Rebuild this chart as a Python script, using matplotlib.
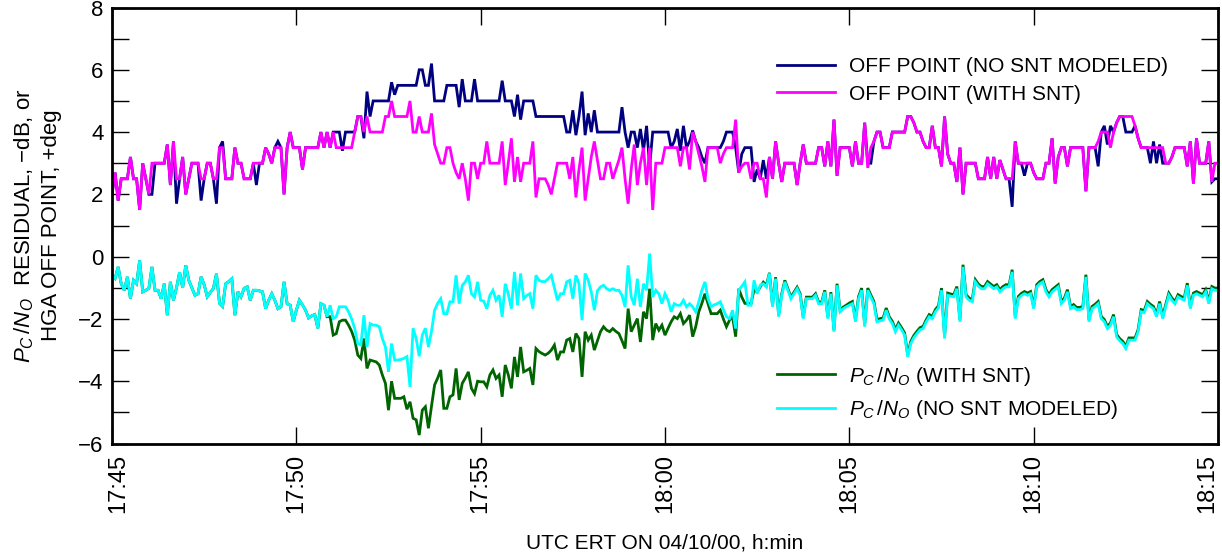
import numpy as np
import matplotlib
matplotlib.use("Agg")
import matplotlib.pyplot as plt
import matplotlib.transforms as mtransforms
from matplotlib.ticker import MultipleLocator

# HGA off-point estimates, deg, one sample every 5 s from 17:45:00 (one row per minute)
off_no_snt = [
    2, 2.7, 1.8, 2.5, 2.5, 2.5, 3.2, 2.5, 2.5, 1.5, 3, 2.5,
    2, 2, 3, 3, 3, 3, 3.6, 2.3, 3.7, 1.7, 2.5, 3.2,
    2, 2.5, 3, 3, 3, 1.8, 2.5, 3, 3, 2.5, 1.7, 3.5,
    3.7, 2.5, 2.5, 2.5, 3.5, 3, 3, 2.5, 2.5, 2.5, 3, 2.3,
    3, 3, 3.5, 3.3, 3, 3.5, 3.7, 3.5, 2, 3.5, 4, 3.5,
    3.5, 3.5, 2.8, 3.5, 3.5, 3.5, 3.5, 3.5, 4, 3.5, 4, 3.5,
    4, 4, 4, 3.4, 4, 4, 4, 4, 4.5, 4.5, 3.8, 5.3,
    4.5, 5, 5, 5, 5, 5, 5, 5.6, 5.2, 5.5, 5.5, 5.5,
    5.5, 5.5, 5.5, 5.5, 6, 6, 5.5, 5.5, 6.2, 5, 5, 5,
    5, 5.5, 5.5, 5.5, 5.5, 4.8, 5.7, 5, 5, 5, 5.7, 5,
    5, 5, 5, 5, 5, 5, 5, 5.65, 5, 5, 5, 4.5,
    5.2, 4.4, 5, 5, 5, 5, 4.5, 4.5, 4.5, 4.5, 4.5, 4.5,
    4.5, 4.5, 4.5, 4.5, 4, 4, 4.7, 3.9, 4.5, 5.3, 3.9, 4.6,
    4, 4.7, 4, 4, 4, 4, 4, 4, 4, 4, 4.8, 4,
    3.5, 4, 4, 3.5, 4.1, 3.4, 4.2, 2.9, 4, 4, 4, 4,
    4, 4, 3.5, 3.7, 4.1, 3.4, 4.2, 3.5, 3.7, 4.05, 3.7, 3.5,
    3.2, 3, 3.5, 3.5, 3.5, 3.5, 3.5, 3.7, 4, 4, 4, 3.5,
    2.7, 3.3, 3.5, 3.5, 3.5, 2.4, 2.8, 2.5, 3.1, 2.5, 3.2, 2.5,
    3.7, 3, 2.4, 3, 3, 3, 3, 2.3, 3, 3.6, 3, 3,
    3, 3, 3.5, 3.5, 2.9, 3.7, 2.9, 4.4, 2.6, 3.5, 3.5, 3.5,
    3.5, 2.9, 3.7, 3, 3, 4.3, 3, 3, 3.7, 4, 4, 3.5,
    3.5, 3.5, 4, 4, 4, 4, 4, 4.5, 4.5, 4.3, 4, 4,
    3.7, 3.5, 3.5, 4.2, 3.5, 3.5, 2.9, 4.5, 3.3, 3, 3, 2.4,
    3.5, 2, 3, 3, 3, 3, 2.5, 2.5, 2.5, 3.2, 2.5, 3.2,
    2.5, 3.1, 2.8, 2.5, 2.5, 1.6, 3.7, 3, 3, 2.6, 3, 3,
    2.7, 2.5, 2.5, 2.5, 3, 3, 3.8, 2.35, 3.2, 3.5, 3.5, 2.9,
    3.5, 3.5, 3.5, 3.5, 3.5, 2.1, 3.5, 3.5, 3.5, 2.9, 4, 4.2,
    3.6, 4.2, 4, 4.3, 4.5, 4.5, 4, 4, 4, 4.2, 3.8, 3.5,
    3.5, 3.5, 3, 3.7, 3, 3.6, 3, 3, 3, 3.2, 3.5, 3.5,
    3.5, 3.5, 2.9, 3.7, 2.35, 3.8, 3, 3, 3, 3.7, 2.4, 2.5,
    2.5,
]

off_with_snt = [
    2, 2.7, 1.8, 2.5, 2.5, 2.5, 3.2, 2.5, 2.5, 1.5, 3, 2.5,
    2, 3, 3, 3, 3, 3, 3.6, 2.3, 3.7, 2.5, 2.5, 3.2,
    2, 2.5, 3, 3, 3, 2.5, 2.5, 3, 3, 2.5, 2.5, 3.5,
    3.5, 2.5, 2.5, 2.5, 3.5, 3, 3, 2.5, 2.5, 2.5, 3, 3,
    3, 3, 3.5, 3.3, 3, 3.5, 3.5, 3.5, 2, 3.5, 4, 3.5,
    3.5, 3.5, 2.8, 3.5, 3.5, 3.5, 3.5, 3.5, 4, 3.5, 4, 3.5,
    4, 3.5, 3.5, 3.5, 3.5, 3.5, 3.5, 4, 4.5, 4.5, 4, 4.5,
    4, 4, 4, 4, 4, 4.5, 4.5, 5, 4.5, 4.5, 4.5, 4.5,
    4.5, 5, 4, 4, 4.5, 4, 4, 4, 4.6, 3.6, 3.3, 3,
    3, 3.5, 3.5, 3, 2.7, 2.5, 3, 2.5, 1.8, 3, 3, 2.5,
    3, 3, 3.7, 3, 3, 3, 3, 3.7, 2.3, 3, 3.8, 2.4,
    3.2, 2.4, 3, 3, 3, 3.7, 1.9, 2.5, 2.5, 2.5, 2.3, 2,
    2.5, 3, 3, 3, 3, 2.5, 3.2, 1.9, 2.8, 3.5, 1.8, 2.5,
    3.2, 3.7, 3.1, 2.5, 2.5, 3, 3, 2.5, 2.8, 3.1, 3.5, 2.5,
    1.7, 2.8, 3.6, 2.3, 3, 3.5, 2.3, 3.5, 1.5, 3, 3, 3,
    3.5, 3.5, 3.5, 3.5, 3.5, 2.9, 3.5, 3.5, 2.8, 4, 3.7, 3.3,
    2.9, 2.4, 3.5, 3.5, 3.5, 3.5, 3, 3.3, 3.5, 3.5, 3.5, 4.4,
    2.7, 2.9, 3, 3, 2.5, 3, 3, 2.5, 2.5, 1.9, 3.2, 2.5,
    3.7, 3, 2.4, 3, 3, 3, 3, 2.3, 3, 3.6, 3, 3,
    3, 3, 3.5, 3.5, 2.9, 3.7, 2.9, 4.4, 2.6, 3.5, 3.5, 3.5,
    3.5, 2.9, 3.7, 3, 3, 4.3, 2.85, 3.5, 3.7, 4, 4, 3.5,
    3.5, 3.5, 4, 4, 4, 4, 4, 4.5, 4.5, 4.3, 4, 4,
    3.7, 3.5, 3.5, 4.2, 3.5, 3.5, 2.9, 4.5, 3.3, 3, 3, 2.4,
    3.5, 2, 3, 3, 3, 3, 2.5, 2.5, 2.5, 3.2, 2.5, 3.2,
    2.5, 3.1, 2.8, 2.5, 2.5, 2.5, 3.7, 3, 3, 3, 3, 3,
    2.7, 2.5, 2.5, 2.5, 3, 3, 3.8, 2.35, 3.2, 3.5, 3.5, 2.9,
    3.5, 3.5, 3.5, 3.5, 3.5, 2.1, 3.5, 3.5, 3.5, 3.7, 4, 4,
    4, 3.5, 4, 4.3, 4.5, 4.5, 4.5, 4.5, 4.5, 4.2, 3.8, 3.5,
    3.5, 3.5, 3.5, 3.5, 3.5, 3.5, 3.5, 3, 3, 3.2, 3.5, 3.5,
    3.5, 3.5, 2.9, 3.7, 2.35, 3.8, 3, 3, 3, 3.7, 2.4, 3,
    3,
]

# Pc/No residuals, dB, same 5 s grid
pc_with_snt = [
    -0.6, -0.7, -0.33, -0.87, -1.08, -0.65, -1.35, -0.76, -0.87, -0.12, -1.13, -1.08,
    -1.02, -0.33, -1.08, -1.08, -1.35, -0.87, -1.88, -0.81, -1.4, -1.0, -0.5, -1.0,
    -0.28, -0.76, -1.0, -1.24, -1.19, -0.65, -0.9, -1.29, -1.15, -1.02, -0.55, -1.5,
    -1.6, -0.87, -0.8, -0.71, -1.88, -1.13, -1.29, -1.02, -0.97, -1.4, -1.08, -1.08,
    -1.1, -1.13, -1.67, -1.4, -1.19, -1.4, -1.67, -1.61, -0.81, -1.51, -1.56, -2.09,
    -1.72, -1.4, -1.55, -1.72, -1.97, -1.9, -1.86, -2.3, -1.51, -1.56, -1.93, -1.93,
    -2.52, -2.47, -2.09, -2.04, -2.04, -2.2, -2.4, -2.68, -3.16, -3.27, -2.63, -3.59,
    -3.32, -3.35, -3.38, -3.48, -3.8, -4.07, -4.93, -4.0, -4.55, -4.55, -4.55, -4.5,
    -4.9, -4.66, -5.19, -5.24, -5.73, -4.93, -4.82, -5.51, -4.8, -4.12, -3.9, -3.64,
    -4.87, -4.87, -4.5, -4.44, -3.59, -4.6, -4.07, -3.9, -3.7, -4.23, -4.4, -4.0,
    -4.02, -4.02, -4.18, -3.8, -3.64, -3.91, -3.8, -4.5, -3.48, -3.8, -4.23, -3.22,
    -3.86, -2.9, -3.7, -3.65, -3.59, -4.12, -2.95, -3.05, -3.11, -3.16, -3.1, -3.0,
    -2.84, -3.32, -3.06, -3.06, -2.68, -2.63, -3.06, -2.47, -2.63, -3.86, -2.41, -2.68,
    -2.52, -3.0, -2.7, -2.41, -2.25, -2.36, -2.41, -2.31, -2.4, -2.47, -2.7, -2.95,
    -1.67, -2.41, -2.2, -1.99, -2.74, -1.77, -1.99, -1.03, -2.68, -2.15, -2.36, -2.2,
    -2.52, -2.3, -2.09, -1.93, -1.99, -1.83, -2.15, -2.04, -1.88, -2.57, -2.25, -1.77,
    -1.5, -1.19, -1.51, -1.83, -1.83, -1.83, -1.72, -2.0, -2.25, -2.04, -1.93, -2.57,
    -1.03, -1.3, -1.5, -1.51, -1.51, -1.05, -1.14, -0.97, -0.82, -0.92, -0.52, -1.56,
    -0.66, -1.88, -1.19, -0.76, -1.03, -1.3, -1.14, -0.98, -1.19, -1.94, -1.3, -1.3,
    -1.3, -1.19, -1.46, -1.46, -1.08, -1.94, -1.14, -2.36, -0.87, -1.72, -1.62, -1.56,
    -1.49, -1.44, -2.02, -1.28, -1.01, -2.18, -1.01, -1.23, -1.44, -2.02, -1.99, -1.97,
    -1.65, -1.93, -2.08, -2.34, -2.13, -2.28, -2.45, -3.15, -2.72, -2.53, -2.4, -2.28,
    -2.24, -2.03, -1.86, -1.92, -1.7, -1.58, -1.01, -2.56, -1.17, -1.2, -1.22, -0.96,
    -2.02, -0.26, -1.22, -1.33, -1.38, -0.74, -0.88, -0.96, -0.96, -0.8, -0.88, -0.96,
    -0.9, -1.06, -0.96, -0.9, -0.9, -0.42, -1.92, -1.28, -1.18, -1.12, -1.17, -1.12,
    -1.6, -0.9, -0.8, -0.74, -1.06, -1.22, -1.06, -0.98, -0.9, -1.44, -1.33, -1.06,
    -1.6, -1.54, -1.63, -1.63, -1.6, -0.58, -2.02, -1.6, -1.53, -1.44, -1.92, -2.02,
    -2.24, -2.13, -1.86, -2.5, -2.63, -2.72, -2.88, -2.61, -2.61, -2.61, -2.34, -1.7,
    -1.73, -1.44, -1.53, -1.6, -1.86, -1.44, -1.92, -1.53, -1.17, -1.33, -1.44, -1.22,
    -1.28, -1.33, -0.85, -1.6, -1.17, -1.12, -1.17, -1.22, -1.06, -1.44, -0.96, -1.01,
    -1.01,
]

pc_no_snt = [
    -0.6, -0.7, -0.33, -0.87, -1.08, -0.65, -1.35, -0.76, -0.87, -0.12, -1.13, -1.08,
    -1.02, -0.33, -1.08, -1.08, -1.35, -0.87, -1.88, -0.81, -1.4, -1.0, -0.5, -1.0,
    -0.28, -0.76, -1.0, -1.24, -1.19, -0.65, -0.9, -1.29, -1.15, -1.02, -0.55, -1.5,
    -1.6, -0.87, -0.8, -0.71, -1.88, -1.13, -1.29, -1.02, -0.97, -1.4, -1.08, -1.08,
    -1.1, -1.13, -1.67, -1.4, -1.19, -1.4, -1.67, -1.61, -0.81, -1.51, -1.56, -2.09,
    -1.72, -1.4, -1.55, -1.72, -1.97, -1.9, -1.86, -2.3, -1.51, -1.56, -1.93, -1.56,
    -1.99, -1.93, -1.61, -1.61, -1.61, -1.77, -2.0, -2.3, -2.79, -2.84, -1.88, -2.9,
    -2.15, -2.2, -2.2, -2.25, -2.63, -2.9, -3.7, -2.79, -3.32, -3.32, -3.3, -3.27,
    -3.21, -4.18, -2.3, -2.63, -3.2, -2.52, -2.3, -2.9, -2.4, -1.72, -1.5, -1.35,
    -1.83, -1.83, -1.45, -1.45, -0.6, -1.51, -0.92, -0.81, -0.6, -1.19, -1.29, -0.81,
    -1.4, -1.43, -1.67, -1.24, -1.08, -1.4, -1.24, -1.93, -0.87, -1.2, -1.67, -0.49,
    -1.56, -0.54, -1.35, -1.25, -1.19, -1.67, -0.6, -0.76, -0.8, -0.8, -0.71, -0.6,
    -1.0, -1.4, -1.19, -1.19, -0.81, -0.76, -1.35, -0.6, -0.87, -2.04, -0.54, -0.76,
    -1.13, -1.72, -1.1, -0.97, -0.92, -1.03, -1.08, -1.03, -1.08, -1.08, -1.24, -1.61,
    -0.28, -1.29, -1.56, -0.71, -1.61, -0.87, -1.08, 0.1, -1.29, -1.08, -1.19, -1.51,
    -1.19, -1.4, -1.77, -1.51, -1.56, -1.56, -1.4, -1.61, -1.51, -1.61, -1.77, -1.45,
    -1.08, -0.81, -1.35, -1.61, -1.55, -1.51, -1.45, -1.7, -1.93, -1.99, -1.72, -2.31,
    -1.08, -0.95, -0.81, -1.56, -1.56, -0.76, -1.19, -0.92, -0.87, -0.97, -0.54, -1.61,
    -0.71, -1.93, -1.24, -0.81, -1.08, -1.35, -1.19, -1.03, -1.24, -1.99, -1.35, -1.35,
    -1.35, -1.24, -1.51, -1.51, -1.13, -1.99, -1.19, -2.41, -0.92, -1.77, -1.67, -1.61,
    -1.56, -1.51, -2.09, -1.35, -1.08, -2.25, -1.08, -1.3, -1.51, -2.09, -2.06, -2.04,
    -1.72, -2.0, -2.15, -2.41, -2.2, -2.35, -2.52, -3.22, -2.79, -2.6, -2.47, -2.35,
    -2.31, -2.1, -1.93, -1.99, -1.77, -1.65, -1.08, -2.63, -1.24, -1.27, -1.29, -1.03,
    -2.09, -0.33, -1.29, -1.4, -1.45, -0.81, -0.95, -1.03, -1.03, -0.87, -0.95, -1.03,
    -0.97, -1.13, -1.03, -0.97, -0.97, -0.49, -1.99, -1.35, -1.25, -1.19, -1.24, -1.19,
    -1.67, -0.97, -0.87, -0.81, -1.13, -1.29, -1.13, -1.05, -0.97, -1.51, -1.4, -1.13,
    -1.67, -1.61, -1.7, -1.7, -1.67, -0.65, -2.09, -1.67, -1.6, -1.51, -1.99, -2.09,
    -2.31, -2.2, -1.93, -2.57, -2.7, -2.79, -2.95, -2.68, -2.68, -2.68, -2.41, -1.77,
    -1.8, -1.51, -1.6, -1.67, -1.93, -1.51, -1.99, -1.6, -1.24, -1.4, -1.51, -1.29,
    -1.35, -1.4, -0.92, -1.67, -1.24, -1.19, -1.24, -1.29, -1.13, -1.51, -1.03, -1.08,
    -1.08,
]

tick_minutes = [0, 5, 10, 15, 20, 25, 30]
tick_labels = ["17:45", "17:50", "17:55", "18:00", "18:05", "18:10", "18:15"]

plt.rcParams["font.family"] = ["Liberation Sans", "DejaVu Sans"]
plt.rcParams["mathtext.fontset"] = "custom"
plt.rcParams["mathtext.rm"] = "Liberation Sans"
plt.rcParams["mathtext.it"] = "Liberation Sans:italic"

fig = plt.figure(figsize=(12.22, 5.55), dpi=100)
ax = fig.add_axes([112 / 1222, 1 - 443.5 / 555, 1106 / 1222, 436 / 555])

# minutes after 17:45, one sample every 5 s
t = np.arange(len(off_no_snt)) * 5 / 60.0

style = dict(lw=2.0, solid_joinstyle="miter")
l1, = ax.plot(t, off_no_snt, color="#000080", label="OFF POINT (NO SNT MODELED)", **style)
l2, = ax.plot(t, off_with_snt, color="#ff00ff", label="OFF POINT (WITH SNT)", **style)
l3, = ax.plot(t, pc_with_snt, color="#006400", label=r"$P_C\,/N_O$ (WITH SNT)", **style)
l4, = ax.plot(t, pc_no_snt, color="#00ffff", label=r"$P_C\,/N_O$ (NO SNT MODELED)", **style)

ax.set_xlim(0, 30)
ax.set_ylim(-6, 8)
ax.set_xticks(tick_minutes)
ax.set_xticklabels(tick_labels, rotation=90)
ax.yaxis.set_major_locator(MultipleLocator(2))
ax.yaxis.set_minor_locator(MultipleLocator(1))
ax.tick_params(which="both", direction="in", length=12, width=1, top=True, right=True)
ax.tick_params(axis="x", labelsize=17, pad=7.5)
ax.tick_params(axis="y", labelsize=16, pad=6)
for sp in ax.spines.values():
    sp.set_linewidth(2)

# keep the end labels inside the frame
xlabels = ax.get_xticklabels()
xlabels[0].set_transform(xlabels[0].get_transform()
                         + mtransforms.ScaledTranslation(6 / 100, 0, fig.dpi_scale_trans))
xlabels[-1].set_transform(xlabels[-1].get_transform()
                          + mtransforms.ScaledTranslation(-11 / 100, 0, fig.dpi_scale_trans))

leg_kw = dict(loc="upper left", frameon=False, fontsize=15, handlelength=2.8,
              handletextpad=0.65, borderpad=0, borderaxespad=0)
leg1 = ax.legend(handles=[l1, l2], bbox_to_anchor=(0.601, 0.886), labelspacing=0.41, **leg_kw)
ax.add_artist(leg1)
ax.legend(handles=[l3, l4], bbox_to_anchor=(0.601, 0.181), labelspacing=0.49, **leg_kw)

ax.set_xlabel("UTC ERT ON 04/10/00, h:min", fontsize=15, va="top")
ax.xaxis.set_label_coords(0.5, -0.207)
ax.set_ylabel(r"$P_C\,/N_O$  RESIDUAL, −dB, or" + "\nHGA OFF POINT, +deg",
              fontsize=16, linespacing=1.35)
ax.yaxis.set_label_coords(-0.045, 0.5)

fig.savefig("out.png", dpi=100)
